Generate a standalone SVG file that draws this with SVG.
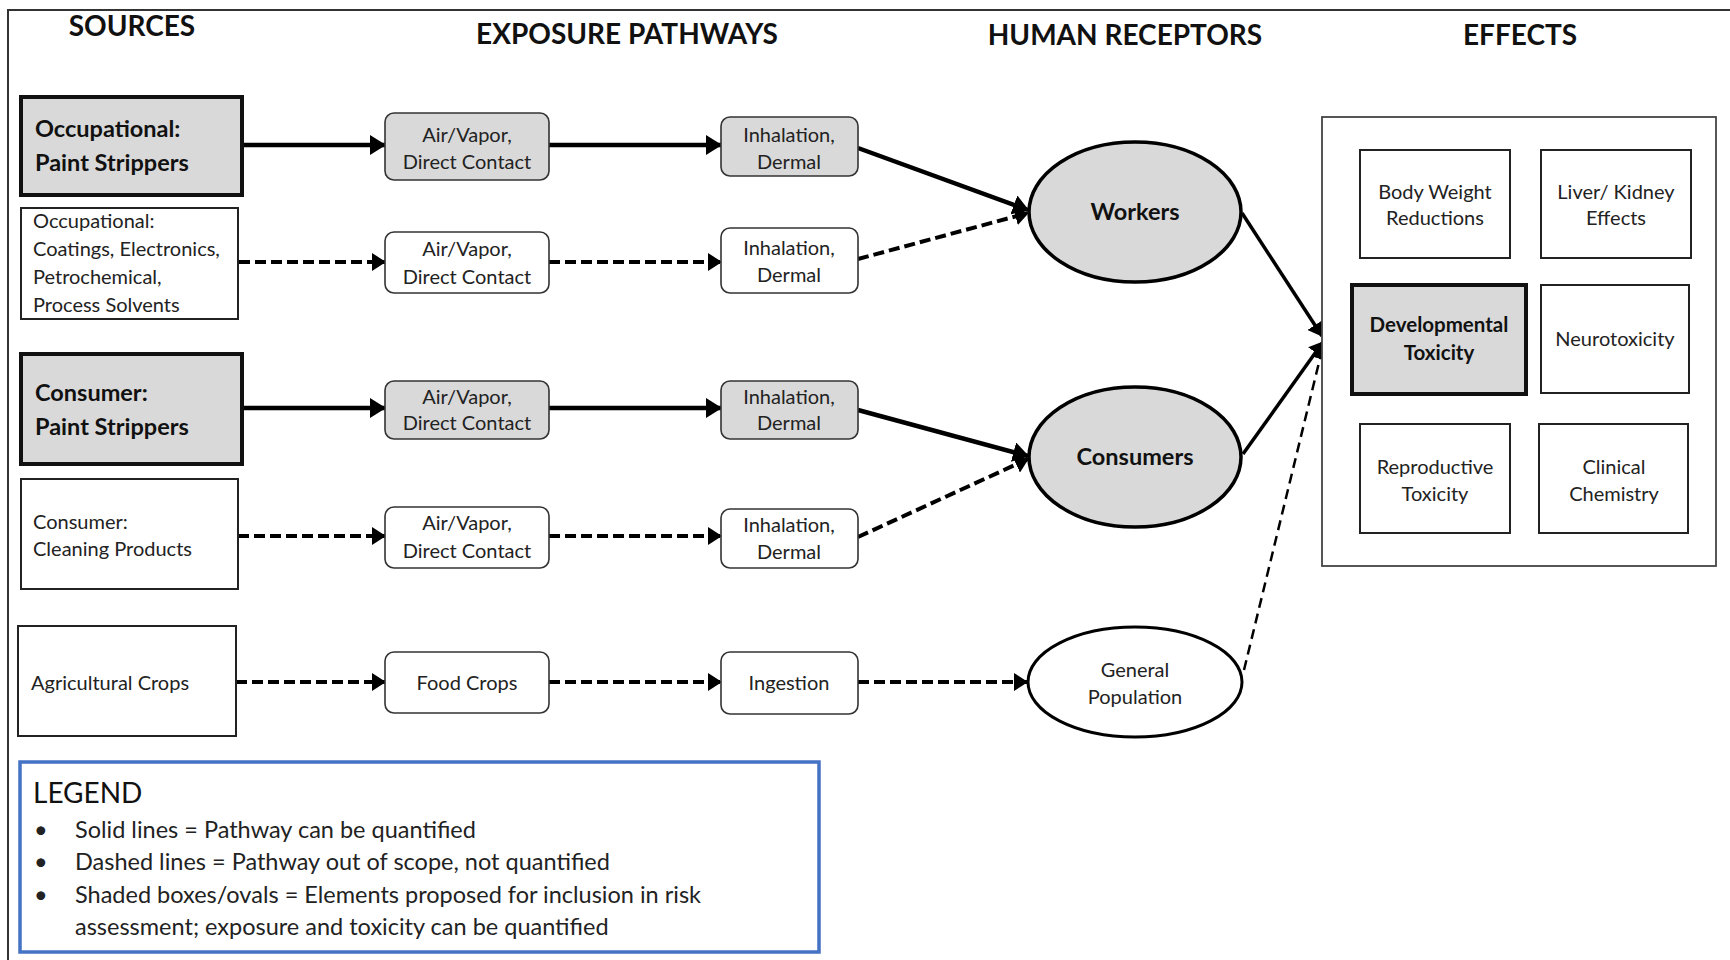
<svg xmlns="http://www.w3.org/2000/svg" width="1730" height="960" viewBox="0 0 1730 960">
<style>
text{font-family:Lato,"Open Sans","Liberation Sans",sans-serif;fill:#222}
.hdr{font-size:28px;font-weight:bold;text-anchor:middle;fill:#111}
.sb{font-size:23.5px;font-weight:bold;fill:#111}
.sr{font-size:20px}
.pt{font-size:20px;text-anchor:middle}
.et{font-size:20px;text-anchor:middle}
.eb{font-size:20.5px;font-weight:bold;text-anchor:middle;fill:#111}
.rb{font-size:23.5px;font-weight:bold;text-anchor:middle;fill:#111}
.rr{font-size:20px;text-anchor:middle}
.lg{font-size:23.5px}
.shade{fill:#d9d9d9}
.thick{stroke:#111;stroke-width:4}
.thin{stroke:#222;stroke-width:2}
.pbox{stroke:#333;stroke-width:1.6}
.solid{stroke:#000;stroke-width:4.5;fill:none}
.dash{stroke:#000;stroke-width:4;stroke-dasharray:11 5;fill:none}
.dashthin{stroke:#000;stroke-width:2.5;stroke-dasharray:10 6;fill:none}
.solid2{stroke:#000;stroke-width:3.5;fill:none}
</style>
<defs>
<marker id="ah" viewBox="0 0 16 20" refX="15" refY="10" markerWidth="16" markerHeight="20" markerUnits="userSpaceOnUse" orient="auto">
<path d="M0,0 L16,10 L0,20 Z" fill="#000"/>
</marker>
<marker id="ah2" viewBox="0 0 14 18" refX="13" refY="9" markerWidth="14" markerHeight="18" markerUnits="userSpaceOnUse" orient="auto">
<path d="M0,0 L14,9 L0,18 Z" fill="#000"/>
</marker>
</defs>
<rect width="1730" height="960" fill="#fff"/>
<path d="M8,960 L8,10 L1730,10" fill="none" stroke="#333" stroke-width="2"/>

<g id="headers">
<text class="hdr" x="132" y="36">SOURCES</text>
<text class="hdr" x="627" y="44">EXPOSURE PATHWAYS</text>
<text class="hdr" x="1125" y="45">HUMAN RECEPTORS</text>
<text class="hdr" x="1520" y="45">EFFECTS</text>
</g>

<g id="connectors">
<line class="solid" x1="242" y1="145" x2="385" y2="145" marker-end="url(#ah)"/>
<line class="solid" x1="549" y1="145" x2="721" y2="145" marker-end="url(#ah)"/>
<line class="solid" x1="858" y1="148" x2="1028" y2="210" marker-end="url(#ah)"/>
<line class="dash" x1="239" y1="262" x2="385" y2="262" marker-end="url(#ah2)"/>
<line class="dash" x1="549" y1="262" x2="721" y2="262" marker-end="url(#ah2)"/>
<line class="dash" x1="858" y1="259" x2="1028" y2="213" marker-end="url(#ah2)"/>
<line class="solid" x1="242" y1="408" x2="385" y2="408" marker-end="url(#ah)"/>
<line class="solid" x1="549" y1="408" x2="721" y2="408" marker-end="url(#ah)"/>
<line class="solid" x1="858" y1="410" x2="1028" y2="456" marker-end="url(#ah)"/>
<line class="dash" x1="238" y1="536" x2="385" y2="536" marker-end="url(#ah2)"/>
<line class="dash" x1="549" y1="536" x2="721" y2="536" marker-end="url(#ah2)"/>
<line class="dash" x1="858" y1="537" x2="1028" y2="459" marker-end="url(#ah2)"/>
<line class="dash" x1="236" y1="682" x2="385" y2="682" marker-end="url(#ah2)"/>
<line class="dash" x1="549" y1="682" x2="721" y2="682" marker-end="url(#ah2)"/>
<line class="dash" x1="858" y1="682" x2="1027" y2="682" marker-end="url(#ah2)"/>
<line class="solid2" x1="1242" y1="213" x2="1322" y2="336" marker-end="url(#ah2)"/>
<line class="solid2" x1="1243" y1="454" x2="1323" y2="342" marker-end="url(#ah2)"/>
<line class="dashthin" x1="1244" y1="670" x2="1323" y2="346" marker-end="url(#ah2)"/>
</g>

<g id="src-occ-paint">
<rect class="shade thick" x="21" y="97" width="221" height="98"/>
<text class="sb" x="35" y="137">Occupational:</text>
<text class="sb" x="35" y="171">Paint Strippers</text>
</g>
<g id="src-occ-other">
<rect class="thin" fill="#fff" x="21" y="208" width="217" height="111"/>
<text class="sr" x="33" y="228">Occupational:</text>
<text class="sr" x="33" y="256">Coatings, Electronics,</text>
<text class="sr" x="33" y="284">Petrochemical,</text>
<text class="sr" x="33" y="312">Process Solvents</text>
</g>
<g id="src-con-paint">
<rect class="shade thick" x="21" y="354" width="221" height="110"/>
<text class="sb" x="35" y="401">Consumer:</text>
<text class="sb" x="35" y="435">Paint Strippers</text>
</g>
<g id="src-con-clean">
<rect class="thin" fill="#fff" x="21" y="479" width="217" height="110"/>
<text class="sr" x="33" y="529">Consumer:</text>
<text class="sr" x="33" y="556">Cleaning Products</text>
</g>
<g id="src-agri">
<rect class="thin" fill="#fff" x="18" y="626" width="218" height="110"/>
<text class="sr" x="31" y="690">Agricultural Crops</text>
</g>

<g id="pw1-r1">
<rect class="shade pbox" x="385" y="113" width="164" height="67" rx="9"/>
<text class="pt" x="467" y="142">Air/Vapor,</text>
<text class="pt" x="467" y="169">Direct Contact</text>
</g>
<g id="pw1-r2">
<rect class="pbox" fill="#fff" x="385" y="232" width="164" height="61" rx="9"/>
<text class="pt" x="467" y="256">Air/Vapor,</text>
<text class="pt" x="467" y="284">Direct Contact</text>
</g>
<g id="pw1-r3">
<rect class="shade pbox" x="385" y="381" width="164" height="58" rx="9"/>
<text class="pt" x="467" y="404">Air/Vapor,</text>
<text class="pt" x="467" y="430">Direct Contact</text>
</g>
<g id="pw1-r4">
<rect class="pbox" fill="#fff" x="385" y="507" width="164" height="61" rx="9"/>
<text class="pt" x="467" y="530">Air/Vapor,</text>
<text class="pt" x="467" y="558">Direct Contact</text>
</g>
<g id="pw1-r5">
<rect class="pbox" fill="#fff" x="385" y="652" width="164" height="61" rx="9"/>
<text class="pt" x="467" y="690">Food Crops</text>
</g>

<g id="pw2-r1">
<rect class="shade pbox" x="721" y="117" width="137" height="59" rx="9"/>
<text class="pt" x="789" y="142">Inhalation,</text>
<text class="pt" x="789" y="169">Dermal</text>
</g>
<g id="pw2-r2">
<rect class="pbox" fill="#fff" x="721" y="228" width="137" height="65" rx="9"/>
<text class="pt" x="789" y="255">Inhalation,</text>
<text class="pt" x="789" y="282">Dermal</text>
</g>
<g id="pw2-r3">
<rect class="shade pbox" x="721" y="381" width="137" height="58" rx="9"/>
<text class="pt" x="789" y="404">Inhalation,</text>
<text class="pt" x="789" y="430">Dermal</text>
</g>
<g id="pw2-r4">
<rect class="pbox" fill="#fff" x="721" y="509" width="137" height="59" rx="9"/>
<text class="pt" x="789" y="532">Inhalation,</text>
<text class="pt" x="789" y="559">Dermal</text>
</g>
<g id="pw2-r5">
<rect class="pbox" fill="#fff" x="721" y="652" width="137" height="62" rx="9"/>
<text class="pt" x="789" y="690">Ingestion</text>
</g>

<g id="rec-workers">
<ellipse class="shade" stroke="#000" stroke-width="3.5" cx="1135" cy="212" rx="106" ry="70"/>
<text class="rb" x="1135" y="220">Workers</text>
</g>
<g id="rec-consumers">
<ellipse class="shade" stroke="#000" stroke-width="3.5" cx="1135" cy="457" rx="106" ry="70"/>
<text class="rb" x="1135" y="465">Consumers</text>
</g>
<g id="rec-general">
<ellipse fill="#fff" stroke="#000" stroke-width="3" cx="1135" cy="682" rx="107" ry="55"/>
<text class="rr" x="1135" y="677">General</text>
<text class="rr" x="1135" y="704">Population</text>
</g>

<g id="effects">
<rect fill="#fff" stroke="#444" stroke-width="1.8" x="1322" y="117" width="394" height="449"/>
<g id="eff-bw">
<rect class="thin" fill="#fff" x="1360" y="150" width="150" height="108"/>
<text class="et" x="1435" y="199">Body Weight</text>
<text class="et" x="1435" y="225">Reductions</text>
</g>
<g id="eff-liver">
<rect class="thin" fill="#fff" x="1541" y="150" width="150" height="108"/>
<text class="et" x="1616" y="199">Liver/ Kidney</text>
<text class="et" x="1616" y="225">Effects</text>
</g>
<g id="eff-dev">
<rect class="shade thick" x="1352" y="285" width="174" height="109"/>
<text class="eb" x="1439" y="332">Developmental</text>
<text class="eb" x="1439" y="360">Toxicity</text>
</g>
<g id="eff-neuro">
<rect class="thin" fill="#fff" x="1541" y="285" width="148" height="108"/>
<text class="et" x="1615" y="346">Neurotoxicity</text>
</g>
<g id="eff-repro">
<rect class="thin" fill="#fff" x="1360" y="424" width="150" height="109"/>
<text class="et" x="1435" y="474">Reproductive</text>
<text class="et" x="1435" y="501">Toxicity</text>
</g>
<g id="eff-clin">
<rect class="thin" fill="#fff" x="1539" y="424" width="149" height="109"/>
<text class="et" x="1614" y="474">Clinical</text>
<text class="et" x="1614" y="501">Chemistry</text>
</g>
</g>

<g id="legend">
<rect fill="#fff" stroke="#4472c4" stroke-width="3.5" x="20" y="762" width="799" height="190"/>
<text x="33" y="803" style="font-size:28px;fill:#111">LEGEND</text>
<text class="lg" x="34" y="838">•</text>
<text class="lg" x="75" y="838">Solid lines = Pathway can be quantified</text>
<text class="lg" x="34" y="870">•</text>
<text class="lg" x="75" y="870">Dashed lines = Pathway out of scope, not quantified</text>
<text class="lg" x="34" y="903">•</text>
<text class="lg" x="75" y="903">Shaded boxes/ovals = Elements proposed for inclusion in risk</text>
<text class="lg" x="75" y="935">assessment; exposure and toxicity can be quantified</text>
</g>
</svg>
